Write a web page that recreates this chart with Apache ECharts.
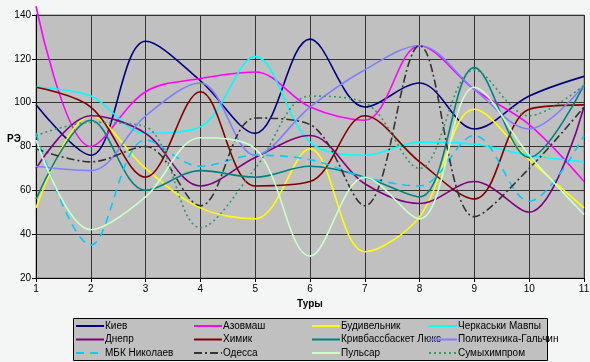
<!DOCTYPE html>
<html><head><meta charset="utf-8">
<script src="https://cdn.jsdelivr.net/npm/echarts@6/dist/echarts.min.js"></script>
<style>html,body{margin:0;padding:0;background:#f4f5f5;}#c{width:590px;height:362px;}</style>
</head><body><div id="c"></div>
<script>
const categories = ['1','2','3','4','5','6','7','8','9','10','11'];
const yTicks = [20,40,60,80,100,120,140];
const kiev    = [99, 76, 128, 110, 86, 129, 98, 109, 88, 103, 112];
const azov    = [144, 80, 105, 111, 114, 98, 92, 126, 106, 90, 64];
const budiv   = [52, 94, 70, 52, 47, 79, 32, 48, 97, 74, 52];
const cherk   = [107, 103, 86, 89, 121, 82, 76, 82, 81, 76, 73];
const dnepr   = [70, 94, 86, 62, 75, 85, 63, 54, 64, 50, 98];
const khimik  = [107, 98, 66, 105, 62, 64, 94, 73, 56, 97, 99];
const kriv    = [56, 92, 60, 69, 66, 71, 66, 57, 116, 75, 108];
const polit   = [71, 69, 94, 109, 76, 98, 115, 126, 106, 88, 108];
const mbk     = [86, 35, 83, 71, 76, 74, 66, 62, 85, 55, 85];
const odessa  = [79, 73, 80, 53, 93, 90, 53, 126, 48, 70, 98];
const pulsar  = [83, 42, 57, 84, 79, 30, 66, 47, 107, 76, 49];
const sumy    = [85, 91, 89, 43, 70, 103, 100, 70, 115, 94, 108];

const seriesDefs = [
  ['Киев', kiev, '#000080', 'solid'],
  ['Азовмаш', azov, '#ff00ff', 'solid'],
  ['Будивельник', budiv, '#ffff00', 'solid'],
  ['Черкаськи Мавпы', cherk, '#00ffff', 'solid'],
  ['Днепр', dnepr, '#800080', 'solid'],
  ['Химик', khimik, '#800000', 'solid'],
  ['Кривбассбаскет Люкс', kriv, '#008080', 'solid'],
  ['Политехника-Гальчин', polit, '#8080ff', 'solid'],
  ['МБК Николаев', mbk, '#00ccff', [8,6]],
  ['Одесса', odessa, '#333333', [8,3,2,3]],
  ['Пульсар', pulsar, '#ccffcc', 'solid'],
  ['Сумыхимпром', sumy, '#339966', [2,3]]
];

const series = seriesDefs.map(d => ({
  name: d[0], type: 'line', data: d[1], smooth: 0.35, symbol: 'none', clip: false,
  lineStyle: {color: d[2], width: 1.6, type: d[3]},
  itemStyle: {color: d[2]}
}));

const colX = [75, 193, 311, 428];
const legends = colX.map((x, ci) => ({
  orient: 'vertical', left: x, top: 321, padding: 0, itemWidth: 28, itemHeight: 12, itemGap: 3.5,
  data: [seriesDefs[ci][0], seriesDefs[ci+4][0], seriesDefs[ci+8][0]],
  itemStyle: {opacity: 0},
  textStyle: {fontFamily: 'Liberation Sans, Arial', fontSize: 10, color: '#000', padding: [0,0,0,-4]},
  z: 10
}));

const chart = echarts.init(document.getElementById('c'), null, {renderer: 'canvas'});
chart.setOption({
  backgroundColor: '#f4f5f5',
  animation: false,
  grid: {left: 36, right: 6, top: 15, bottom: 84, containLabel: false, outerBoundsMode: 'none',
    show: true, backgroundColor: '#c0c0c0', borderColor: '#808080', borderWidth: 1},
  xAxis: {
    type: 'category', data: categories, boundaryGap: false,
    name: 'Туры', nameLocation: 'middle', nameGap: 20,
    nameTextStyle: {fontFamily: 'Liberation Sans, Arial', fontSize: 10, fontWeight: 'bold', color: '#000'},
    axisLine: {lineStyle: {color: '#000', width: 1}},
    axisTick: {show: true, length: 4, lineStyle: {color: '#000'}},
    axisLabel: {fontFamily: 'Liberation Sans, Arial', fontSize: 10, color: '#000', margin: 6},
    splitLine: {show: true, lineStyle: {color: '#333', width: 1}}
  },
  yAxis: {
    type: 'value', min: yTicks[0], max: yTicks[yTicks.length-1], interval: 20,
    axisLine: {show: true, lineStyle: {color: '#000', width: 1}},
    axisTick: {show: true, length: 4, lineStyle: {color: '#000'}},
    axisLabel: {fontFamily: 'Liberation Sans, Arial', fontSize: 10, color: '#000', margin: 5},
    splitLine: {show: true, lineStyle: {color: '#333', width: 1}}
  },
  legend: legends,
  graphic: [
    {type: 'rect', left: 73, top: 318, z: 0,
     shape: {width: 474, height: 42}, style: {fill: '#c0c0c0', stroke: '#000', lineWidth: 1}},
    {type: 'text', left: 7, top: 134, z: 5,
     style: {text: 'РЭ', fill: '#000', font: 'bold 10px "Liberation Sans", Arial'}}
  ],
  series: series
});
</script></body></html>
